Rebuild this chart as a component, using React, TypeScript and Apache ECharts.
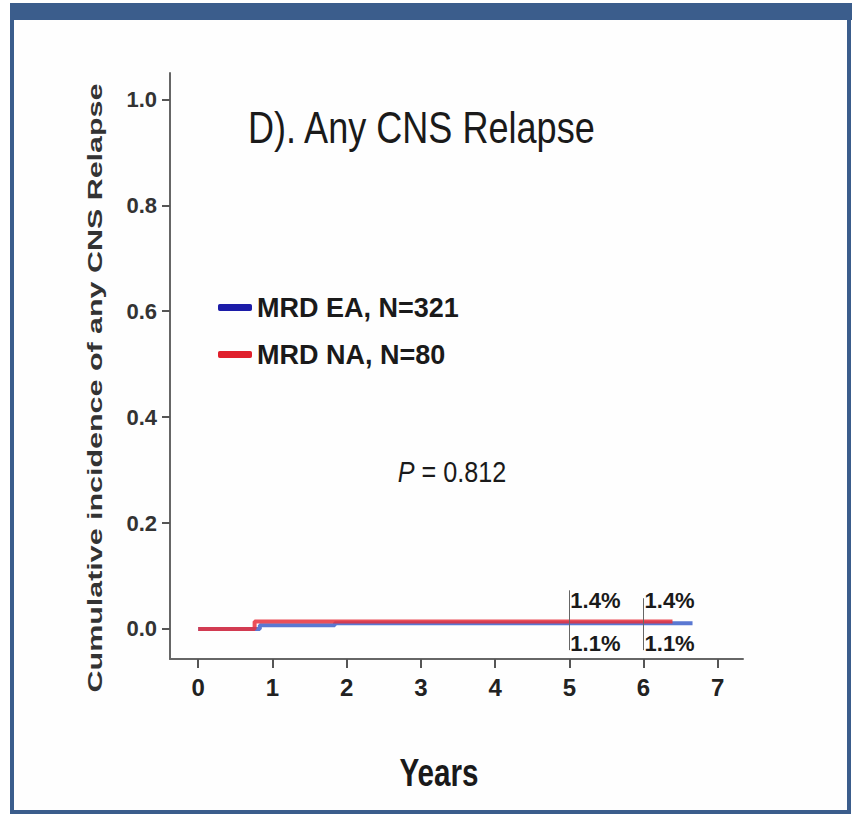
import React, { useEffect, useRef } from "react";
import * as echarts from "echarts";

// ---- data ----
const eaTimes = [0, 0.83, 1.84, 6.66];
const eaValues = [0, 0.007, 0.011, 0.011];
const naTimes = [0, 0.76, 6.39];
const naValues = [0, 0.014, 0.014];

const xTicks = [0, 1, 2, 3, 4, 5, 6, 7];
const yTicks = [0, 0.2, 0.4, 0.6, 0.8, 1.0];

const annotTimes = [5, 6];
const naPct = ["1.4%", "1.4%"];
const eaPct = ["1.1%", "1.1%"];
const annotLineTop = [0.073, 0.058];
const annotLineBottom = [-0.04, -0.04];

const seriesNames = ["MRD EA, N=321", "MRD NA, N=80"];
const pValue = "0.812";

const SANS = "'Liberation Sans', Arial, sans-serif";

export default function App() {
  const ref = useRef<HTMLDivElement>(null);
  useEffect(() => {
    document.body.style.margin = "0";
    if (!ref.current) return;
    const chart = echarts.init(ref.current, null, { renderer: "svg" });
    const ea = eaTimes.map((t, i) => [t, eaValues[i]]);
    const na = naTimes.map((t, i) => [t, naValues[i]]);
    const labelStyle = {
      show: true,
      position: "right",
      distance: 1,
      fontFamily: SANS,
      fontSize: 22,
      fontWeight: "bold",
      color: "#1a1a1a",
    };
    const option: any = {
      animation: false,
      backgroundColor: "#ffffff",
      grid: { left: 170, right: 109, top: 73, bottom: 157, containLabel: false },
      xAxis: {
        type: "value",
        min: -0.38,
        max: 7.34,
        splitLine: { show: false },
        axisLine: { show: true, onZero: false, lineStyle: { color: "#666", width: 2 } },
        axisTick: { show: true, customValues: xTicks, length: 9, lineStyle: { color: "#555", width: 2 } },
        axisLabel: {
          show: true,
          customValues: xTicks,
          margin: 16,
          fontFamily: SANS,
          fontSize: 24,
          fontWeight: "bold",
          color: "#222",
          formatter: (v: number) => String(Math.round(v)),
        },
      },
      yAxis: {
        type: "value",
        min: -0.0567,
        max: 1.0497,
        splitLine: { show: false },
        axisLine: { show: true, onZero: false, lineStyle: { color: "#666", width: 2 } },
        axisTick: { show: true, customValues: yTicks, length: 8, lineStyle: { color: "#555", width: 2 } },
        axisLabel: {
          show: true,
          customValues: yTicks,
          margin: 13,
          fontFamily: SANS,
          fontSize: 22,
          fontWeight: "bold",
          color: "#333",
          formatter: (v: number) => v.toFixed(1),
        },
      },
      legend: {
        show: true,
        orient: "vertical",
        left: 213,
        top: 289,
        itemWidth: 34,
        itemHeight: 7,
        itemGap: 20,
        icon: "roundRect",
        data: seriesNames,
        textStyle: { fontFamily: SANS, fontSize: 27, fontWeight: "bold", color: "#1a1a1a" },
      },
      series: [
        {
          name: seriesNames[0],
          type: "line",
          step: "end",
          data: ea,
          showSymbol: false,
          symbol: "none",
          color: "#1c1ca8",
          lineStyle: { color: "#5a78d2", width: 4 },
          z: 3,
        },
        {
          name: seriesNames[1],
          type: "line",
          step: "end",
          data: na,
          showSymbol: false,
          symbol: "none",
          color: "#e0202c",
          lineStyle: { color: "#e8303c", width: 4, opacity: 0.85 },
          z: 4,
          markLine: {
            silent: true,
            symbol: "none",
            label: { show: false },
            lineStyle: { color: "#666", width: 1, type: "solid" },
            data: annotTimes.map((t, i) => [
              { coord: [t, annotLineBottom[i]] },
              { coord: [t, annotLineTop[i]] },
            ]),
          },
        },
        {
          name: "naLabels",
          type: "scatter",
          symbolSize: 0,
          itemStyle: { opacity: 1 },
          data: annotTimes.map((t) => [t, 0.054]),
          label: { ...labelStyle, formatter: (p: any) => naPct[p.dataIndex] },
          z: 5,
        },
        {
          name: "eaLabels",
          type: "scatter",
          symbolSize: 0,
          itemStyle: { opacity: 1 },
          data: annotTimes.map((t) => [t, -0.027]),
          label: { ...labelStyle, formatter: (p: any) => eaPct[p.dataIndex] },
          z: 5,
        },
      ],
      graphic: [
        {
          type: "rect",
          z: -10,
          shape: { x: 12, y: 10, width: 837, height: 802 },
          style: { fill: "#fefefe", stroke: "#3b5d8c", lineWidth: 4 },
        },
        {
          type: "rect",
          z: -9,
          shape: { x: 10, y: 3, width: 842, height: 17 },
          style: { fill: "#3b5d8c" },
        },
        {
          type: "text",
          x: 248,
          y: 128,
          scaleX: 0.82,
          style: {
            text: "D). Any CNS Relapse",
            font: `normal 44px ${SANS}`,
            fill: "#1a1a1a",
            align: "left",
            verticalAlign: "middle",
          },
        },
        {
          type: "text",
          x: 452,
          y: 472,
          scaleX: 0.84,
          style: {
            text: "{i|P}{n| = " + pValue + "}",
            align: "center",
            verticalAlign: "middle",
            rich: {
              i: { font: `italic 30px ${SANS}`, fill: "#1a1a1a" },
              n: { font: `normal 30px ${SANS}`, fill: "#1a1a1a" },
            },
          },
        },
        {
          type: "text",
          x: 439,
          y: 773,
          scaleX: 0.78,
          style: {
            text: "Years",
            font: `bold 38px ${SANS}`,
            fill: "#1a1a1a",
            align: "center",
            verticalAlign: "middle",
          },
        },
        {
          type: "text",
          x: 95,
          y: 388,
          rotation: Math.PI / 2,
          scaleX: 1.45,
          style: {
            text: "Cumulative incidence of any CNS Relapse",
            font: `bold 21px ${SANS}`,
            fill: "#333",
            align: "center",
            verticalAlign: "middle",
          },
        },
      ],
    };
    chart.setOption(option);
    return () => chart.dispose();
  }, []);
  return <div ref={ref} style={{ width: 852, height: 816 }} />;
}
